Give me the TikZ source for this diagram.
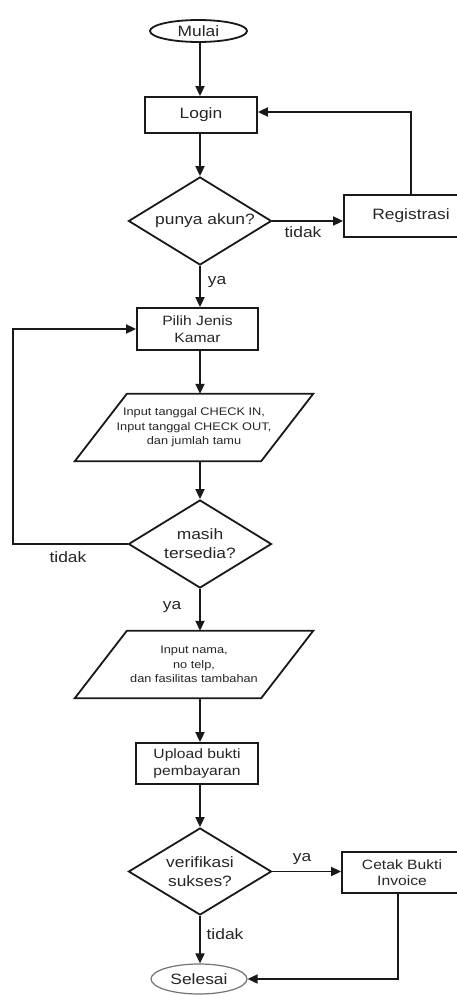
\documentclass[tikz,border=0pt]{standalone}
\usepackage{fontspec}
\setmainfont{Liberation Sans}[FakeStretch=1.16]
\usetikzlibrary{shapes.geometric,arrows.meta}
\begin{document}
\begin{tikzpicture}[x=1pt,y=-1pt,
  ln/.style={line width=1.8pt, draw=black!90},
  arr/.style={ln, -{Triangle[length=10pt,width=9pt]}},
  big/.style={font=\fontsize{15}{19}\selectfont},
  mid/.style={font=\fontsize{13.5}{16.5}\selectfont},
  small/.style={font=\fontsize{11}{14.5}\selectfont},
  boxnode/.style={draw=black!90, line width=1.8pt, rectangle, inner sep=0pt, align=center, text=black!85},
  decnode/.style={diamond, aspect=1.625, draw=black!90, line width=1.8pt, minimum width=143pt, minimum height=88pt, inner sep=0pt, align=center, text=black!85, big},
  ionode/.style={draw=none, minimum width=186pt, minimum height=67pt, inner sep=0pt, align=center, text=black!85, small},
  termnode/.style={ellipse, draw=black!90, line width=1.8pt, inner sep=0pt, text=black!85, big},
  lbl/.style={text=black!85, big, inner sep=0pt}
]
\useasboundingbox (0,0) rectangle (457,995);
\fill[white] (0,0) rectangle (457,995);

\coordinate (ax) at (200,0);
\coordinate (lx) at (13,0);
\coordinate (cx) at (398,0);

\node[termnode, minimum width=97pt, minimum height=22pt] (mulai) at (198.5,31) {Mulai};
\node[boxnode, big, minimum width=112pt, minimum height=36pt] (login) at (201,115) {Login};
\node[decnode] (d1) at (200,221) {\hspace*{10pt}punya akun?};
\node[boxnode, big, minimum width=134pt, minimum height=42pt] (reg) at (411,216) {Registrasi};
\node[boxnode, mid, minimum width=121pt, minimum height=42pt] (pilih) at (197.5,329) {Pilih Jenis\\Kamar};
\node[ionode] (p1) at (194,427.5) {Input tanggal CHECK IN,\\Input tanggal CHECK OUT,\\dan jumlah tamu};
\draw[ln] ([xshift=26pt]p1.north west) -- ([xshift=26pt]p1.north east) -- ([xshift=-26pt]p1.south east) -- ([xshift=-26pt]p1.south west) -- cycle;
\node[decnode] (d2) at (200,544) {masih\\tersedia?};
\node[ionode] (p2) at (194,664.5) {Input nama,\\no telp,\\dan fasilitas tambahan};
\draw[ln] ([xshift=26pt]p2.north west) -- ([xshift=26pt]p2.north east) -- ([xshift=-26pt]p2.south east) -- ([xshift=-26pt]p2.south west) -- cycle;
\node[boxnode, mid, minimum width=122pt, minimum height=41pt] (upl) at (197,763.5) {Upload bukti\\pembayaran};
\node[decnode, minimum height=87pt] (d3) at (200,871.5) {verifikasi\\sukses?};
\node[boxnode, mid, minimum width=120pt, minimum height=41pt] (cetak) at (402,872.5) {Cetak Bukti\\Invoice};
\node[ellipse, draw=black!55, line width=1.2pt, inner sep=0pt, text=black!85, big, minimum width=96pt, minimum height=30pt] (sel) at (199,979) {Selesai};

% connectors
\draw[arr] (mulai.south -| ax) -- (login.north -| ax);
\draw[arr] (login.south -| ax) -- (d1.north -| ax);
\draw[arr] (d1.east) -- (reg.west |- d1.east);
\draw[arr] (reg.north) |- ([yshift=3pt]login.east);
\draw[arr] (d1.south -| ax) -- (pilih.north -| ax);
\draw[arr] (pilih.south -| ax) -- (p1.north -| ax);
\draw[arr] (p1.south -| ax) -- (d2.north -| ax);
\draw[arr] (d2.west) -- (d2.west -| lx) |- (pilih.west);
\draw[arr] (d2.south -| ax) -- (p2.north -| ax);
\draw[arr] (p2.south -| ax) -- (upl.north -| ax);
\draw[arr] (upl.south -| ax) -- (d3.north -| ax);
\draw[arr] (d3.east) -- (cetak.west |- d3.east);
\draw[arr] (d3.south -| ax) -- (sel.north -| ax);
\draw[arr] (cetak.south -| cx) |- (sel.east);

% labels
\node[lbl] (t1) at (303,232) {tidak};
\node[lbl] (y1) at (217,282) {ya};
\node[lbl] (t2) at (68,557) {tidak};
\node[lbl] (y2) at (172,607) {ya};
\node[lbl] (y3) at (302,859) {ya};
\node[lbl] (t3) at (225,934) {tidak};
\end{tikzpicture}
\end{document}
